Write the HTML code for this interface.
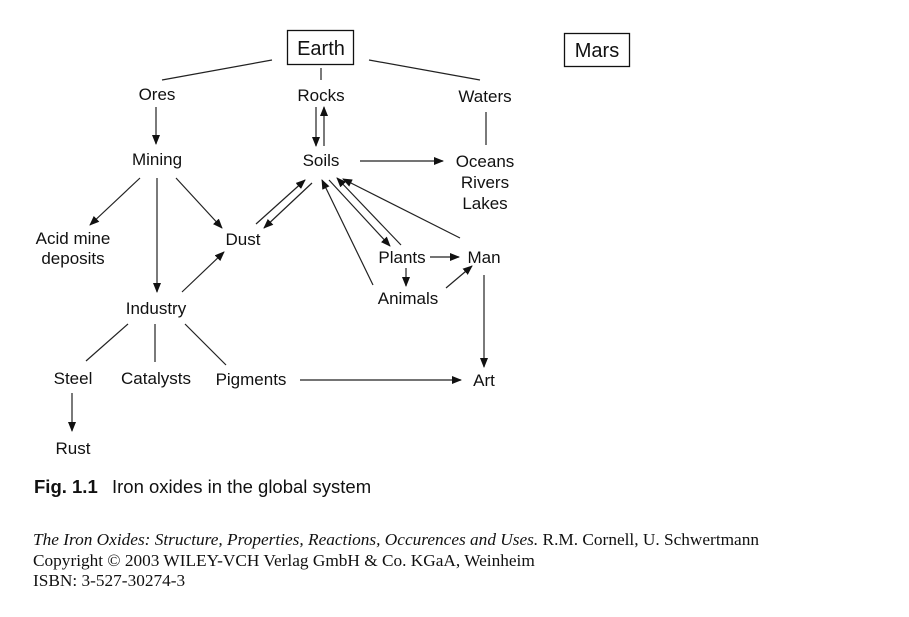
<!DOCTYPE html>
<html><head><meta charset="utf-8"><style>
html,body{margin:0;padding:0;background:#fff;width:909px;height:617px;overflow:hidden}
svg{display:block}
.l{font-family:"Liberation Sans",sans-serif;font-size:17px;fill:#111;text-anchor:middle}
.c{font-family:"Liberation Sans",sans-serif;font-size:18.5px;fill:#111}
.s{font-family:"Liberation Serif",serif;font-size:17.3px;fill:#111}
line{stroke:#222;stroke-width:1.2}
</style></head><body>
<svg width="909" height="617" viewBox="0 0 909 617">
<defs><marker id="a" markerWidth="10" markerHeight="8" refX="9" refY="4" orient="auto" markerUnits="userSpaceOnUse"><path d="M0,0 L10,4 L0,8 z" fill="#111"/></marker></defs>
<rect x="287.5" y="30.5" width="66" height="34" fill="none" stroke="#111" stroke-width="1.3"/>
<rect x="564.5" y="33.5" width="65" height="33" fill="none" stroke="#111" stroke-width="1.3"/>
<text class="l" x="321" y="55" style="font-size:20px">Earth</text>
<text class="l" x="597" y="57" style="font-size:20px">Mars</text>
<line x1="272" y1="60" x2="162" y2="80"/>
<line x1="369" y1="60" x2="480" y2="80"/>
<line x1="321" y1="68" x2="321" y2="80"/>
<line x1="156" y1="107" x2="156" y2="144" marker-end="url(#a)"/>
<line x1="316" y1="107" x2="316" y2="146" marker-end="url(#a)"/>
<line x1="324" y1="146" x2="324" y2="107" marker-end="url(#a)"/>
<line x1="486" y1="112" x2="486" y2="145"/>
<line x1="360" y1="161" x2="443" y2="161" marker-end="url(#a)"/>
<line x1="140" y1="178" x2="90" y2="225" marker-end="url(#a)"/>
<line x1="176" y1="178" x2="222" y2="228" marker-end="url(#a)"/>
<line x1="157" y1="178" x2="157" y2="292" marker-end="url(#a)"/>
<line x1="182" y1="292" x2="224" y2="252" marker-end="url(#a)"/>
<line x1="256" y1="224" x2="305" y2="180" marker-end="url(#a)"/>
<line x1="312" y1="183" x2="264" y2="228" marker-end="url(#a)"/>
<line x1="329" y1="180" x2="390" y2="246" marker-end="url(#a)"/>
<line x1="401" y1="245" x2="337" y2="178" marker-end="url(#a)"/>
<line x1="373" y1="285" x2="322" y2="180" marker-end="url(#a)"/>
<line x1="460" y1="238" x2="343" y2="179" marker-end="url(#a)"/>
<line x1="430" y1="257" x2="459" y2="257" marker-end="url(#a)"/>
<line x1="406" y1="268" x2="406" y2="286" marker-end="url(#a)"/>
<line x1="446" y1="288" x2="472" y2="266" marker-end="url(#a)"/>
<line x1="484" y1="275" x2="484" y2="367" marker-end="url(#a)"/>
<line x1="300" y1="380" x2="461" y2="380" marker-end="url(#a)"/>
<line x1="128" y1="324" x2="86" y2="361"/>
<line x1="155" y1="324" x2="155" y2="362"/>
<line x1="185" y1="324" x2="226" y2="365"/>
<line x1="72" y1="393" x2="72" y2="431" marker-end="url(#a)"/>
<text class="l" x="157" y="100">Ores</text>
<text class="l" x="321" y="101">Rocks</text>
<text class="l" x="485" y="102">Waters</text>
<text class="l" x="157" y="165">Mining</text>
<text class="l" x="321" y="166">Soils</text>
<text class="l" x="485" y="167">Oceans</text>
<text class="l" x="485" y="188">Rivers</text>
<text class="l" x="485" y="209">Lakes</text>
<text class="l" x="73" y="244">Acid mine</text>
<text class="l" x="73" y="264">deposits</text>
<text class="l" x="243" y="245">Dust</text>
<text class="l" x="402" y="263">Plants</text>
<text class="l" x="484" y="263">Man</text>
<text class="l" x="408" y="304">Animals</text>
<text class="l" x="156" y="314">Industry</text>
<text class="l" x="73" y="384">Steel</text>
<text class="l" x="156" y="384">Catalysts</text>
<text class="l" x="251" y="385">Pigments</text>
<text class="l" x="484" y="386">Art</text>
<text class="l" x="73" y="454">Rust</text>
<text class="c" x="34" y="493" style="font-weight:bold">Fig. 1.1</text>
<text class="c" x="112" y="493">Iron oxides in the global system</text>
<text class="s" x="33" y="545"><tspan font-style="italic">The Iron Oxides: Structure, Properties, Reactions, Occurences and Uses.</tspan> R.M. Cornell, U. Schwertmann</text>
<text class="s" x="33" y="566">Copyright © 2003 WILEY-VCH Verlag GmbH &amp; Co. KGaA, Weinheim</text>
<text class="s" x="33" y="586">ISBN: 3-527-30274-3</text>
</svg>
</body></html>
